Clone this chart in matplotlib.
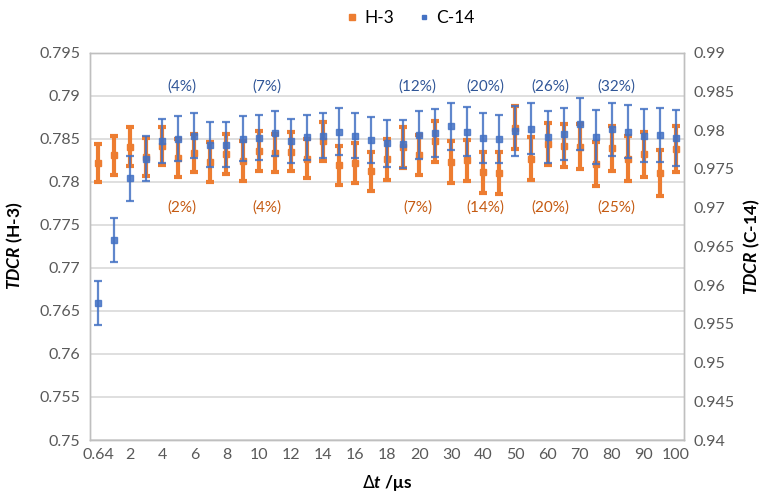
import matplotlib
matplotlib.use("Agg")
import matplotlib.pyplot as plt
import numpy as np

plt.rcParams['font.family'] = ['Lato', 'DejaVu Sans']
plt.rcParams['mathtext.fontset'] = 'custom'
plt.rcParams['mathtext.it'] = 'Lato:italic:bold'
plt.rcParams['mathtext.bf'] = 'Lato:bold'

# Coincidence resolving time categories (µs)
dt_labels = ['0.64', '1', '2', '3', '4', '5', '6', '7', '8', '9', '10', '11', '12',
             '13', '14', '15', '16', '17', '18', '19', '20', '25', '30', '35', '40',
             '45', '50', '55', '60', '65', '70', '75', '80', '85', '90', '95', '100']

# TDCR for H-3 (left axis) and its uncertainty
tdcr_h3 = [0.7822, 0.7831, 0.7841, 0.7829, 0.7842, 0.7828, 0.7833, 0.7823, 0.7832,
           0.7824, 0.7836, 0.7833, 0.7835, 0.7827, 0.7847, 0.7819, 0.7822, 0.7812,
           0.7826, 0.7840, 0.7831, 0.7847, 0.7823, 0.7825, 0.7811, 0.7810, 0.7863,
           0.7827, 0.7844, 0.7842, 0.7841, 0.7821, 0.7839, 0.7827, 0.7832, 0.7810,
           0.7838]
err_h3 = [0.00225, 0.00227, 0.00225, 0.0022, 0.0022, 0.0022, 0.0022, 0.0023, 0.0023,
          0.0023, 0.0023, 0.0022, 0.00225, 0.0023, 0.0023, 0.0023, 0.0023, 0.0023,
          0.00235, 0.00235, 0.0023, 0.00235, 0.0024, 0.0024, 0.0024, 0.00245, 0.00245,
          0.00245, 0.0024, 0.0025, 0.0026, 0.00255, 0.0026, 0.0026, 0.0026, 0.0027,
          0.0027]

# TDCR for C-14 (right axis) and its uncertainty
tdcr_c14 = [0.9577, 0.9658, 0.9738, 0.9763, 0.9786, 0.9789, 0.9793, 0.9781, 0.9781,
            0.9789, 0.9790, 0.9796, 0.9786, 0.9791, 0.9793, 0.9798, 0.9793, 0.9787,
            0.9783, 0.9782, 0.9794, 0.9796, 0.9805, 0.9798, 0.9790, 0.9788, 0.9799,
            0.9802, 0.9791, 0.9795, 0.9808, 0.9791, 0.9801, 0.9798, 0.9793, 0.9794,
            0.9790]
err_c14 = [0.0028, 0.0028, 0.0029, 0.0029, 0.0029, 0.0029, 0.0029, 0.0029, 0.0029,
           0.0029, 0.0029, 0.0029, 0.0029, 0.0029, 0.0029, 0.0030, 0.0029, 0.0030,
           0.0030, 0.0031, 0.0031, 0.0031, 0.0030, 0.0032, 0.0032, 0.0031, 0.0032,
           0.0033, 0.0034, 0.0033, 0.0034, 0.0035, 0.0034, 0.0034, 0.0034, 0.0035,
           0.0036]

# Relative change annotations
pct_c14 = ['(4%)', '(7%)', '(12%)', '(20%)', '(26%)', '(32%)']
pct_h3 = ['(2%)', '(4%)', '(7%)', '(14%)', '(20%)', '(25%)']
pct_x = [5.2, 10.5, 19.9, 24.1, 28.2, 32.3]

ORANGE = '#ED7D31'
BLUE = '#4472C4'
GREY = '#595959'

fig = plt.figure(figsize=(7.64, 4.99), dpi=100)
ax = fig.add_axes([0.1178, 0.1182, 0.7775, 0.7762])
ax2 = ax.twinx()

x = np.arange(len(dt_labels))

ax.errorbar(x, tdcr_h3, yerr=err_h3, fmt='s', color=ORANGE, ms=4.8, elinewidth=3.0,
            capsize=2.8, capthick=3.0, zorder=3)
ax2.errorbar(x, tdcr_c14, yerr=err_c14, fmt='s', color=BLUE, ms=4.0, elinewidth=1.6,
             capsize=3.2, capthick=1.6, alpha=0.85, zorder=4)

ax.set_xlim(-0.5, len(dt_labels) - 0.5)
ax.set_ylim(0.75, 0.795)
ax2.set_ylim(0.94, 0.99)
ax.set_yticks(np.arange(0.75, 0.7951, 0.005))
ax2.set_yticks(np.arange(0.94, 0.9901, 0.005))
fmt = lambda v: ('%.3f' % v).rstrip('0')
ax.set_yticklabels([fmt(v) for v in np.arange(0.75, 0.7951, 0.005)])
ax2.set_yticklabels([fmt(v) for v in np.arange(0.94, 0.9901, 0.005)])

ax.set_xticks(x[::2])
ax.set_xticklabels(dt_labels[::2])

ax.yaxis.grid(True, color='#D9D9D9', linewidth=1.2)
ax.set_axisbelow(True)
for a in (ax, ax2):
    for s in a.spines.values():
        s.set_color('#BFBFBF')
        s.set_linewidth(1.0)
    a.tick_params(length=0, labelsize=11.5, colors=GREY, pad=7)
ax.tick_params(axis='x', pad=6)

ax.set_ylabel(r'$\mathit{TDCR}$ (H-3)', fontsize=12.5, fontweight='bold', labelpad=10)
ax2.set_ylabel(r'$\mathit{TDCR}$ (C-14)', fontsize=12.5, fontweight='bold', labelpad=5)
ax.set_xlabel(r'$\mathit{\Delta t}$ /μs', fontsize=12.5, fontweight='bold', labelpad=8)

for px, tc, th in zip(pct_x, pct_c14, pct_h3):
    ax.text(px, 0.7911, tc, color='#2F5597', fontsize=11, ha='center', va='center')
    ax.text(px, 0.7770, th, color='#C55A11', fontsize=11, ha='center', va='center')

h1 = plt.Line2D([], [], marker='s', color=ORANGE, ls='none', ms=4.5)
h2 = plt.Line2D([], [], marker='s', color=BLUE, ls='none', ms=3.5)
fig.legend([h1, h2], ['H-3', 'C-14'], loc='center', bbox_to_anchor=(0.535, 0.963),
           ncol=2, frameon=False, fontsize=12.5, handletextpad=0.2, columnspacing=1.2,
           handlelength=1.0)

fig.savefig('out.png', dpi=100)
